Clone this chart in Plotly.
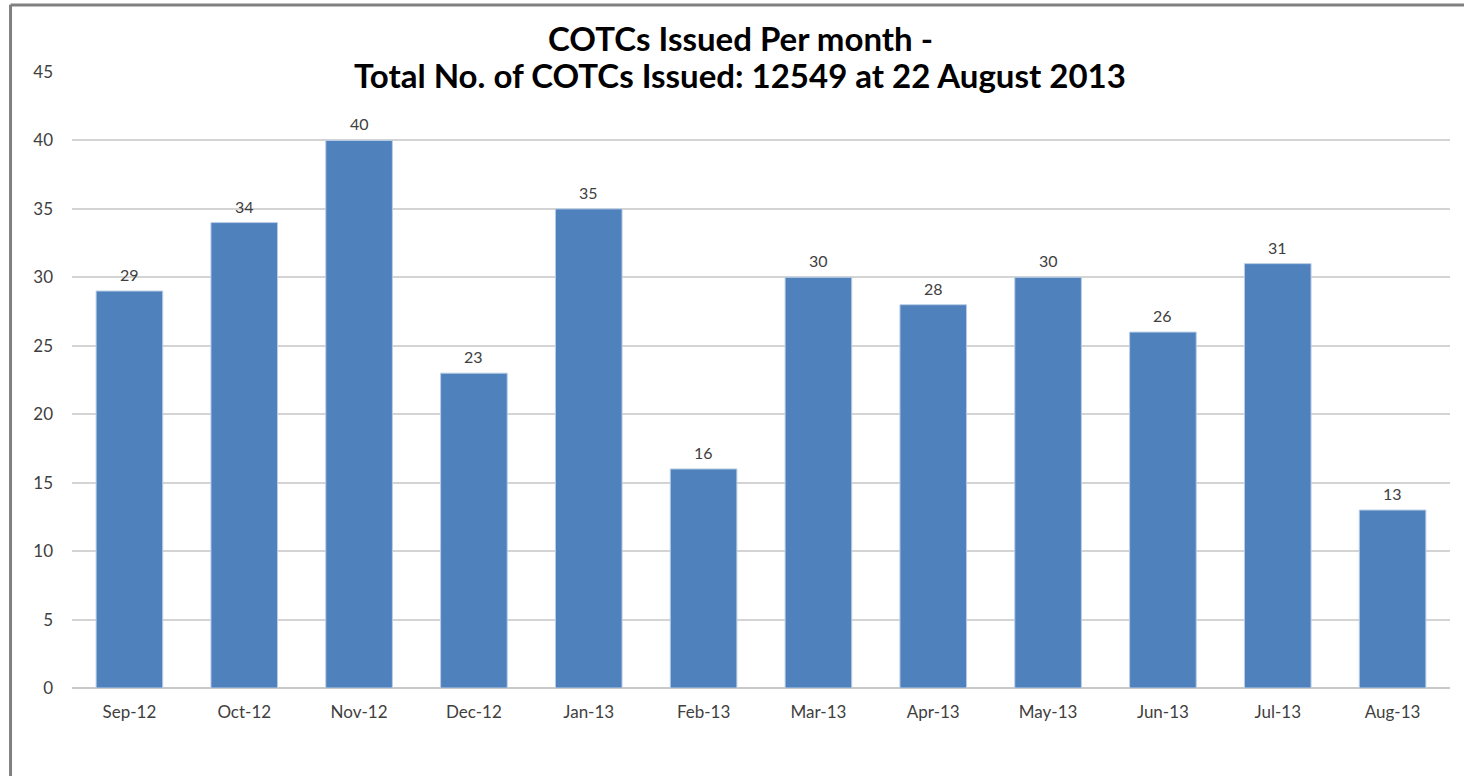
import plotly.graph_objects as go

months = ["Sep-12", "Oct-12", "Nov-12", "Dec-12", "Jan-13", "Feb-13",
          "Mar-13", "Apr-13", "May-13", "Jun-13", "Jul-13", "Aug-13"]
counts = [29, 34, 40, 23, 35, 16, 30, 28, 30, 26, 31, 13]
y_ticks = [0, 5, 10, 15, 20, 25, 30, 35, 40, 45]
title_lines = ["COTCs Issued Per month -",
               "Total No. of COTCs Issued: 12549 at 22 August 2013"]

fig = go.Figure()
fig.add_trace(go.Bar(
    x=months, y=counts,
    marker=dict(color="#4f81bd", line=dict(color="#b9cde5", width=1)),
    hoverinfo="x+y",
))

# data labels above bars
for m, v in zip(months, counts):
    fig.add_annotation(x=m, y=v, text=str(v), showarrow=False,
                       xref="x", yref="y", yanchor="bottom", yshift=5,
                       font=dict(family="Lato", size=16, color="#404040"))

# two-line bold title
for txt, yp in zip(title_lines, [1.0552, 0.9951]):
    fig.add_annotation(x=0.485, y=yp, xref="paper", yref="paper",
                       text="<b>" + txt + "</b>", showarrow=False,
                       xanchor="center", yanchor="middle",
                       font=dict(family="Lato", size=33, color="black"))

fig.update_layout(
    width=1464, height=776,
    margin=dict(l=72, r=14, t=72, b=88),
    paper_bgcolor="white", plot_bgcolor="white",
    bargap=0.42,
    showlegend=False,
    xaxis=dict(
        showgrid=False, showline=False, ticks="",
        ticklabelstandoff=12,
        tickfont=dict(family="Lato", size=17, color="#404040"),
    ),
    yaxis=dict(
        range=[0, 45], tickvals=y_ticks,
        showgrid=True, gridcolor="#d4d4d4", gridwidth=1.5,
        zeroline=True, zerolinecolor="#c8c8c8", zerolinewidth=1.5,
        showline=False, ticks="", ticklabelstandoff=18,
        tickfont=dict(family="Lato", size=17, color="#404040"),
    ),
)

# outer frame of the picture (left and top edges)
fig.add_shape(type="line", xref="paper", yref="paper",
              x0=-0.0446, x1=-0.0446, y0=-0.2, y1=1.109,
              line=dict(color="#808080", width=3), layer="above")
fig.add_shape(type="line", xref="paper", yref="paper",
              x0=-0.0446, x1=1.02, y0=1.1088, y1=1.1088,
              line=dict(color="#808080", width=3), layer="above")

fig.write_html("out.html",
               config={"displayModeBar": False},
               post_script="document.body.style.margin='0';")
